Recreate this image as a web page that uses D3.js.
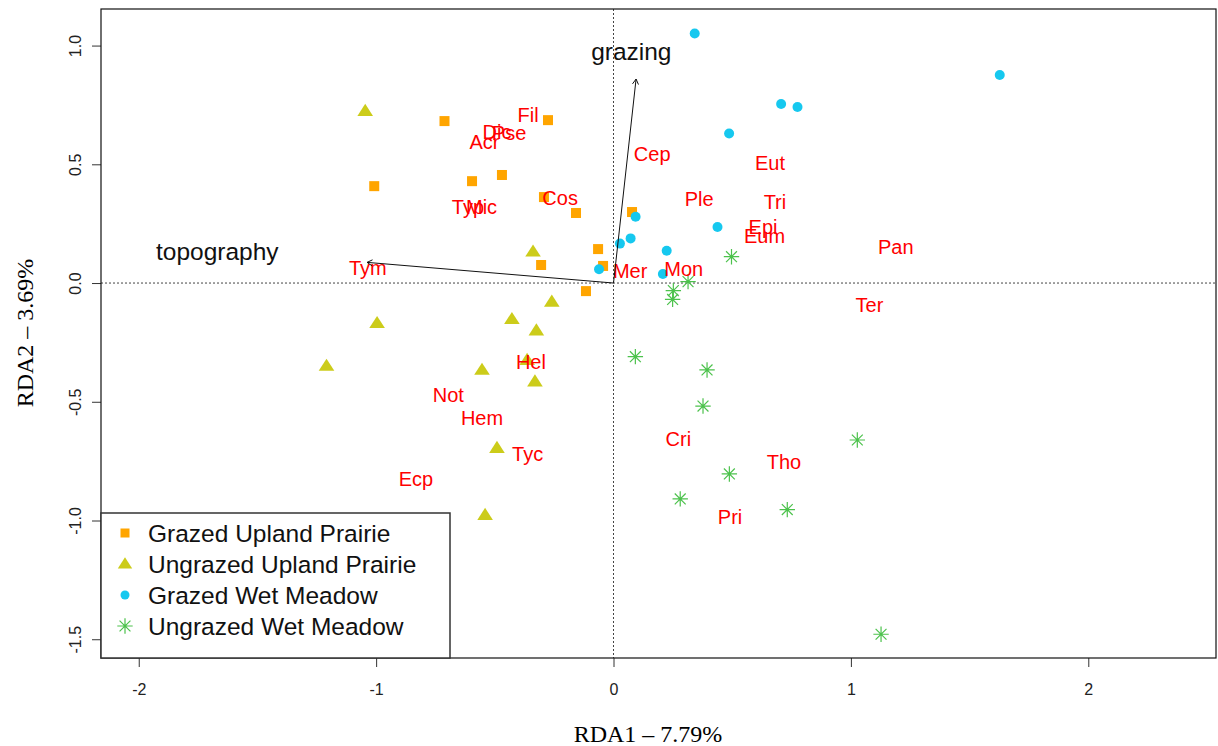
<!DOCTYPE html>
<html lang="en">
<head>
<meta charset="utf-8">
<title>RDA biplot</title>
<script src="https://cdn.jsdelivr.net/npm/d3@7"></script>
<style>
  body { margin: 0; background: #fff; }
  svg { display: block; }
  .tick text { font-family: "Liberation Sans", Arial, sans-serif; fill: #222; }
</style>
</head>
<body>
<svg width="1218" height="746"></svg>
<script>
// site scores, one array per group: [RDA1, RDA2]
const grazedUpland = [
  [-0.712, 0.682], [-0.276, 0.686], [-1.008, 0.408], [-0.596, 0.429],
  [-0.470, 0.455], [-0.293, 0.362], [-0.158, 0.295], [0.078, 0.299],
  [-0.065, 0.143], [-0.305, 0.076], [-0.044, 0.072], [-0.116, -0.034]
];
const ungrazedUpland = [
  [-1.046, 0.724], [-0.339, 0.132], [-0.260, -0.079], [-0.996, -0.169],
  [-0.428, -0.152], [-0.325, -0.200], [-1.209, -0.349], [-0.554, -0.366],
  [-0.331, -0.415], [-0.364, -0.324], [-0.491, -0.695], [-0.541, -0.977]
];
const grazedWet = [
  [0.342, 1.051], [1.627, 0.876], [0.706, 0.754], [0.775, 0.741],
  [0.487, 0.630], [0.093, 0.279], [0.438, 0.236], [0.072, 0.188],
  [0.027, 0.166], [0.224, 0.136], [0.208, 0.038], [-0.061, 0.058]
];
const ungrazedWet = [
  [0.497, 0.111], [0.314, 0.006], [0.252, -0.032], [0.249, -0.069],
  [0.092, -0.310], [0.394, -0.366], [0.377, -0.518], [1.027, -0.661],
  [0.488, -0.804], [0.281, -0.909], [0.732, -0.954], [1.127, -1.479]
];

const groupNames = ["Grazed Upland Prairie", "Ungrazed Upland Prairie", "Grazed Wet Meadow", "Ungrazed Wet Meadow"];
const groupColors = ["#ffa500", "#cccc1a", "#16c8ef", "#4cc24c"];
const groupShapes = ["square", "triangle", "circle", "asterisk"];

// species scores
const speciesNames = ["Fil", "Dic", "Pse", "Acr", "Cos", "Typ", "Mic", "Cep", "Eut", "Ple", "Tri", "Epi", "Eum",
  "Pan", "Tym", "Mer", "Mon", "Ter", "Hel", "Not", "Hem", "Cri", "Tyc", "Tho", "Ecp", "Pri"];
const speciesX = [-0.360, -0.491, -0.440, -0.544, -0.225, -0.613, -0.556, 0.163, 0.659, 0.361, 0.680, 0.630, 0.636,
  1.189, -1.035, 0.070, 0.296, 1.078, -0.348, -0.696, -0.554, 0.273, -0.362, 0.718, -0.832, 0.491];
const speciesY = [0.707, 0.634, 0.630, 0.596, 0.359, 0.321, 0.321, 0.543, 0.504, 0.352, 0.342, 0.236, 0.199,
  0.150, 0.064, 0.052, 0.058, -0.094, -0.331, -0.472, -0.567, -0.658, -0.720, -0.755, -0.825, -0.984];

// environmental vectors
const envNames = ["grazing", "topography"];
const envX = [0.095, -1.038];
const envY = [0.859, 0.087];
const envLabelX = [0.075, -1.669];
const envLabelY = [0.974, 0.132];

const xTicks = [-2, -1, 0, 1, 2];
const xTickLabels = ["-2", "-1", "0", "1", "2"];
const yTicks = [-1.5, -1, -0.5, 0, 0.5, 1];
const yTickLabels = ["-1.5", "-1.0", "-0.5", "0.0", "0.5", "1.0"];

const svg = d3.select("svg");
const plot = { left: 101, right: 1216, top: 9, bottom: 658 };

const x = d3.scaleLinear().domain([-2.159, 2.538]).range([plot.left, plot.right]);
const y = d3.scaleLinear().domain([-1.579, 1.154]).range([plot.bottom, plot.top]);

// zero lines
svg.append("line")
  .attr("x1", x(0)).attr("x2", x(0)).attr("y1", plot.top).attr("y2", plot.bottom)
  .attr("stroke", "#444").attr("stroke-dasharray", "2,2");
svg.append("line")
  .attr("x1", plot.left).attr("x2", plot.right).attr("y1", y(0)).attr("y2", y(0))
  .attr("stroke", "#444").attr("stroke-dasharray", "2,2");

// axes
const xAxisG = svg.append("g")
  .attr("transform", `translate(0,${plot.bottom})`)
  .call(d3.axisBottom(x).tickValues(xTicks).tickSize(9).tickFormat((d, i) => xTickLabels[i]));
xAxisG.select(".domain").remove();
xAxisG.selectAll(".tick line").attr("stroke", "#333");
xAxisG.selectAll(".tick text")
  .attr("y", 31).attr("dy", null)
  .attr("dominant-baseline", "central")
  .style("font-size", "16px");

const yAxisG = svg.append("g")
  .attr("transform", `translate(${plot.left},0)`)
  .call(d3.axisLeft(y).tickValues(yTicks).tickSize(9).tickFormat((d, i) => yTickLabels[i]));
yAxisG.select(".domain").remove();
yAxisG.selectAll(".tick line").attr("stroke", "#333");
yAxisG.selectAll(".tick text")
  .attr("transform", "rotate(-90)")
  .attr("x", 0).attr("y", -26).attr("dy", null)
  .attr("text-anchor", "middle")
  .attr("dominant-baseline", "central")
  .style("font-size", "16px");

// frame
svg.append("rect")
  .attr("x", plot.left).attr("y", plot.top)
  .attr("width", plot.right - plot.left).attr("height", plot.bottom - plot.top)
  .attr("fill", "none").attr("stroke", "#111").attr("stroke-width", 1.2);

// axis titles
svg.append("text")
  .attr("x", 648).attr("y", 742)
  .attr("text-anchor", "middle")
  .style("font-family", "'Liberation Serif', 'Times New Roman', serif")
  .style("font-size", "24px")
  .text("RDA1 \u2013 7.79%");
svg.append("text")
  .attr("transform", "translate(33,333) rotate(-90)")
  .attr("text-anchor", "middle")
  .style("font-family", "'Liberation Serif', 'Times New Roman', serif")
  .style("font-size", "24px")
  .text("RDA2 \u2013 3.69%");

// symbols
function drawSymbol(sel, shape, color, size) {
  if (shape === "square") {
    sel.append("rect").attr("x", -size / 2).attr("y", -size / 2)
      .attr("width", size).attr("height", size).attr("fill", color);
  } else if (shape === "triangle") {
    const h = size * 0.9;
    sel.append("path")
      .attr("d", `M0,${-h * 0.62}L${size * 0.6},${h * 0.42}L${-size * 0.6},${h * 0.42}Z`)
      .attr("fill", color);
  } else if (shape === "circle") {
    sel.append("circle").attr("r", size / 2).attr("fill", color);
  } else {
    const r = size * 0.7;
    const d = r * Math.SQRT1_2;
    sel.append("path")
      .attr("d", `M${-r},0H${r}M0,${-r}V${r}M${-d},${-d}L${d},${d}M${-d},${d}L${d},${-d}`)
      .attr("stroke", color).attr("stroke-width", 1.2).attr("fill", "none");
  }
}

const groupData = [grazedUpland, ungrazedUpland, grazedWet, ungrazedWet];
const symbolSize = [10, 13, 10, 11];

groupData.forEach((pts, i) => {
  svg.append("g").selectAll("g")
    .data(pts)
    .enter().append("g")
    .attr("transform", d => `translate(${x(d[0])},${y(d[1])})`)
    .each(function () { drawSymbol(d3.select(this), groupShapes[i], groupColors[i], symbolSize[i]); });
});

// species labels
svg.append("g").selectAll("text")
  .data(speciesNames)
  .enter().append("text")
  .attr("x", (d, i) => x(speciesX[i]))
  .attr("y", (d, i) => y(speciesY[i]))
  .attr("text-anchor", "middle")
  .attr("dominant-baseline", "central")
  .attr("fill", "#ff0000")
  .style("font-family", "'Liberation Sans', Arial, sans-serif")
  .style("font-size", "20px")
  .text(d => d);

// environmental arrows
const arrowG = svg.append("g").attr("stroke", "#111").attr("stroke-width", 1).attr("fill", "none");
envNames.forEach((name, i) => {
  const x0 = x(0), y0 = y(0), x1 = x(envX[i]), y1 = y(envY[i]);
  const ang = Math.atan2(y1 - y0, x1 - x0);
  const len = 6, spread = Math.PI / 6;
  arrowG.append("line").attr("x1", x0).attr("y1", y0).attr("x2", x1).attr("y2", y1);
  arrowG.append("path")
    .attr("d", `M${x1 - len * Math.cos(ang - spread)},${y1 - len * Math.sin(ang - spread)}` +
      `L${x1},${y1}L${x1 - len * Math.cos(ang + spread)},${y1 - len * Math.sin(ang + spread)}`);
  svg.append("text")
    .attr("x", x(envLabelX[i])).attr("y", y(envLabelY[i]))
    .attr("text-anchor", "middle")
    .attr("dominant-baseline", "central")
    .attr("fill", "#111")
    .style("font-family", "'Liberation Sans', Arial, sans-serif")
    .style("font-size", "24.5px")
    .text(name);
});

// legend
const legend = svg.append("g");
legend.append("rect")
  .attr("x", 101).attr("y", 513).attr("width", 349).attr("height", 145)
  .attr("fill", "#fff").attr("stroke", "#333").attr("stroke-width", 1.5);
const legendSize = [9, 12, 9, 11];
groupNames.forEach((name, i) => {
  const row = legend.append("g").attr("transform", `translate(125,${533 + i * 31})`);
  drawSymbol(row, groupShapes[i], groupColors[i], legendSize[i]);
  row.append("text")
    .attr("x", 23).attr("y", 0)
    .attr("dominant-baseline", "central")
    .attr("fill", "#111")
    .style("font-family", "'Liberation Sans', Arial, sans-serif")
    .style("font-size", "24.5px")
    .text(name);
});
</script>
</body>
</html>
